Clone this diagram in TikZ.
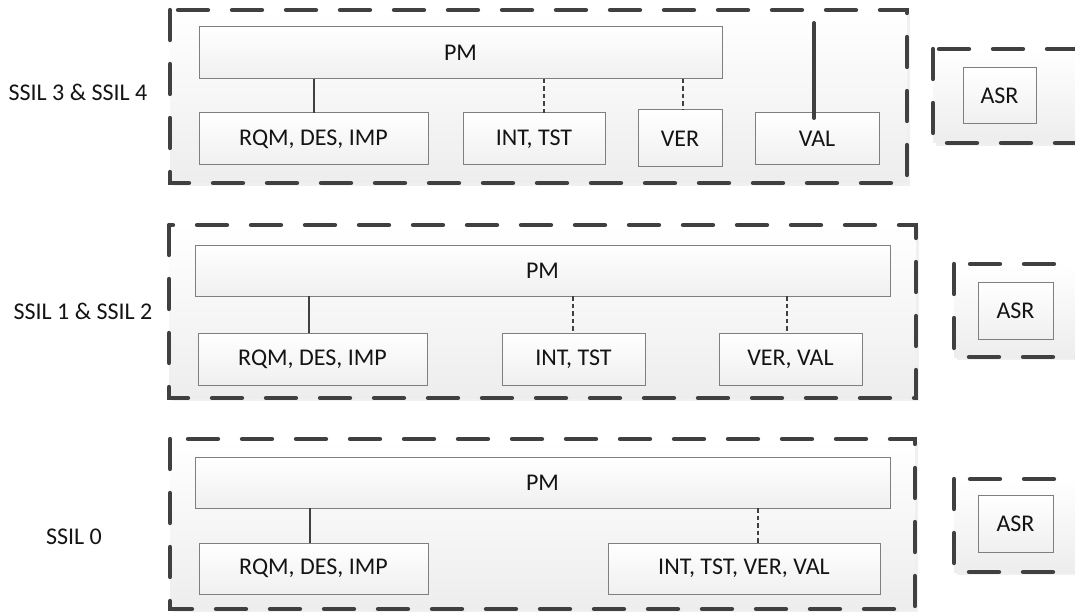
\documentclass[tikz,border=0pt]{standalone}
\usepackage{fontspec}
\setmainfont{Carlito}
\definecolor{lineg}{HTML}{404040}
\definecolor{boxb}{HTML}{7F7F7F}
\definecolor{txt}{HTML}{141414}
\begin{document}
\begin{tikzpicture}[x=1pt,y=-1pt,
  grp/.style={draw=lineg, line width=4.3pt, dash pattern=on 30pt off 24pt, line cap=round, top color=white, bottom color=black!7},
  shd/.style={fill=black!6, draw=none},
  box/.style={draw=boxb, line width=1pt, top color=white, bottom color=black!6, inner sep=0pt, outer sep=0pt, anchor=north west, font=\fontsize{24}{29}\selectfont, text=txt},
  lbl/.style={font=\fontsize{24}{29}\selectfont, text=txt},
  sol/.style={draw=lineg, line width=1.5pt},
  dotc/.style={draw=lineg, line width=2.6pt, dash pattern=on 4.5pt off 3pt},
  heavy/.style={draw=lineg, line width=4pt, line cap=round}]
\clip (0,0) rectangle (1075,612);
\fill[white] (0,0) rectangle (1075,612);
% ---------- group 1 ----------
\fill[shd] (173,13) rectangle (910,186);
\draw[grp] (170,10) rectangle (907,183);
\fill[shd] (936,52) rectangle (1100,146);
\draw[grp] (933,49) rectangle (1100,143);
\node[lbl] (l1) at (78,92) {SSIL 3 \& SSIL 4};
\node[box, minimum width=523pt, minimum height=52pt] (pm1) at (199,27) {PM};
\node[box, minimum width=229pt, minimum height=52pt] (rqm1) at (199,113) {RQM, DES, IMP};
\node[box, minimum width=142pt, minimum height=52pt] (int1) at (463,113) {INT, TST};
\node[box, minimum width=84pt, minimum height=57pt] (ver1) at (638,110) {VER};
\node[box, minimum width=124pt, minimum height=52pt] (val1) at (755,113) {VAL};
\node[box, minimum width=73pt, minimum height=56pt] (asr1) at (963,68) {ASR};
\coordinate (c11) at (314,0);
\coordinate (c12) at (544,0);
\coordinate (c13) at (683,0);
\coordinate (c14) at (814,23);
\draw[sol] (pm1.south -| c11) -- (rqm1.north -| c11);
\draw[dotc] (pm1.south -| c12) -- (int1.north -| c12);
\draw[dotc] (pm1.south -| c13) -- (ver1.north -| c13);
\draw[heavy] (c14) -- ([yshift=-5pt]val1.north -| c14);
% ---------- group 2 ----------
\fill[shd] (172,228) rectangle (919,401);
\draw[grp] (169,225) rectangle (916,398);
\fill[shd] (957,267) rectangle (1100,360);
\draw[grp] (954,264) rectangle (1100,357);
\node[lbl] (l2) at (83,311) {SSIL 1 \& SSIL 2};
\node[box, minimum width=695pt, minimum height=51pt] (pm2) at (195,245) {PM};
\node[box, minimum width=229pt, minimum height=52pt] (rqm2) at (198,333) {RQM, DES, IMP};
\node[box, minimum width=143pt, minimum height=52pt] (int2) at (502,333) {INT, TST};
\node[box, minimum width=143pt, minimum height=52pt] (vv2) at (719,333) {VER, VAL};
\node[box, minimum width=75pt, minimum height=57pt] (asr2) at (978,282) {ASR};
\coordinate (c21) at (309,0);
\coordinate (c22) at (573,0);
\coordinate (c23) at (787,0);
\draw[sol] (pm2.south -| c21) -- (rqm2.north -| c21);
\draw[dotc] (pm2.south -| c22) -- (int2.north -| c22);
\draw[dotc] (pm2.south -| c23) -- (vv2.north -| c23);
% ---------- group 3 ----------
\fill[shd] (173,442) rectangle (918,612);
\draw[grp] (170,439) rectangle (915,609);
\fill[shd] (957,482) rectangle (1100,575);
\draw[grp] (954,479) rectangle (1100,572);
\node[lbl] (l3) at (74,537) {SSIL 0};
\node[box, minimum width=695pt, minimum height=51pt] (pm3) at (195,457) {PM};
\node[box, minimum width=229pt, minimum height=51pt] (rqm3) at (199,543) {RQM, DES, IMP};
\node[box, minimum width=272pt, minimum height=51pt] (itvv3) at (608,543) {INT, TST, VER, VAL};
\node[box, minimum width=75pt, minimum height=57pt] (asr3) at (978,495) {ASR};
\coordinate (c31) at (310,0);
\coordinate (c32) at (758,0);
\draw[sol] (pm3.south -| c31) -- (rqm3.north -| c31);
\draw[dotc] (pm3.south -| c32) -- (itvv3.north -| c32);
\end{tikzpicture}
\end{document}
